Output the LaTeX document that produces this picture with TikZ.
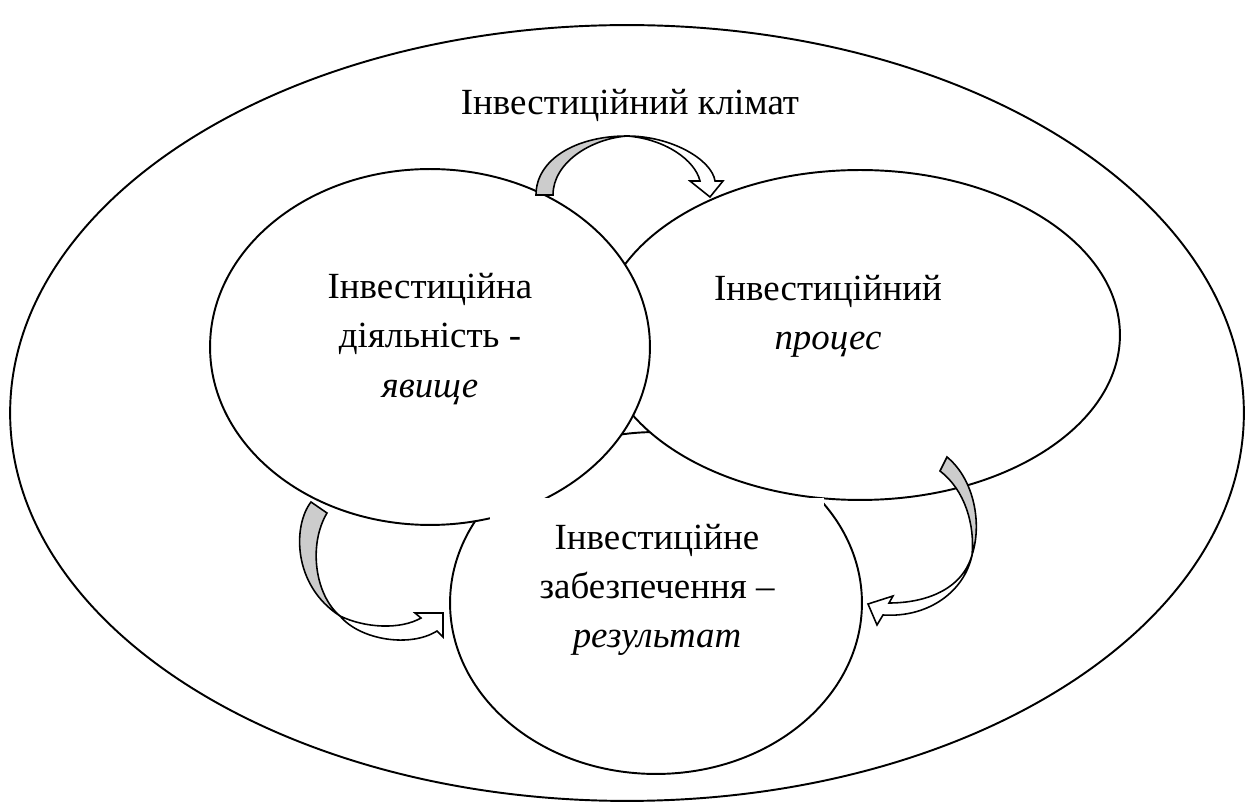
\documentclass[tikz,border=0pt]{standalone}
\usepackage{fontspec}
\setmainfont{Liberation Serif}
\usepackage{tikz}
\usetikzlibrary{shapes.geometric}
\tikzset{
  ring/.style={draw, ellipse, fill=white, line width=1.1pt, inner sep=0pt, outer sep=0pt},
  lbl/.style={align=center, font=\fontsize{21}{28}\selectfont, inner sep=0pt},
  back/.style={draw, fill=gray!40, line width=0.9pt, line join=miter},
  front/.style={draw, fill=white, line width=0.9pt, line join=miter}
}

\begin{document}
\begin{tikzpicture}[x=0.02cm, y=-0.02cm]
\useasboundingbox (0,0) rectangle (1252,810);
\node[ring, minimum width=24.68cm, minimum height=15.52cm] (climate) at (627,413) {};
\node[ring, minimum width=8.24cm, minimum height=6.84cm] (result) at (656,603) {};
\node[ring, minimum width=10.4cm, minimum height=6.6cm] (process) at (860,335) {};
\node[ring, minimum width=8.8cm, minimum height=7.12cm] (activity) at (430,347) {};
\node[lbl] (climatetxt) at (630,105) {Інвестиційний клімат};
\node[lbl] (activitytxt) at (430,339) {Інвестиційна\\діяльність -\\\textit{явище}};
\node[lbl] (processtxt) at (828,316) {Інвестиційний\\\textit{процес}};
\node[lbl, fill=white, minimum width=6.7cm, minimum height=3.7cm] (resulttxt) at (657,590)
  {Інвестиційне\\забезпечення –\\\textit{результат}};
% activity -> process
\draw[back] (536,195) .. controls (536,160) and (575,136) .. (627,136)
  .. controls (590,139) and (553,163) .. (553,195) -- cycle;
\draw[front] (627,136) .. controls (672,136) and (712,160) .. (715,181)
  -- (723,181) -- (710,197) -- (690,181) -- (700,181)
  .. controls (695,160) and (665,139) .. (627,136) -- cycle;
% process -> result
\draw[back] (940,471) -- (947,457) .. controls (975,480) and (982,525) .. (972,555)
  .. controls (975,525) and (965,490) .. (940,471) -- cycle;
\draw[front] (972,555) .. controls (962,590) and (925,603) .. (889,603)
  -- (893,596) -- (868,604) -- (877,625) -- (883,615)
  .. controls (930,618) and (965,590) .. (972,555) -- cycle;
% activity -> result
\draw[back] (311,502) .. controls (293,525) and (292,585) .. (340,616)
  .. controls (315,595) and (308,545) .. (327,513) -- cycle;
\draw[front] (340,616) .. controls (360,640) and (410,648) .. (437,631)
  -- (443,637) -- (443,613) -- (415,613) -- (421,618)
  .. controls (400,630) and (365,628) .. (340,616) -- cycle;
\end{tikzpicture}
\end{document}
